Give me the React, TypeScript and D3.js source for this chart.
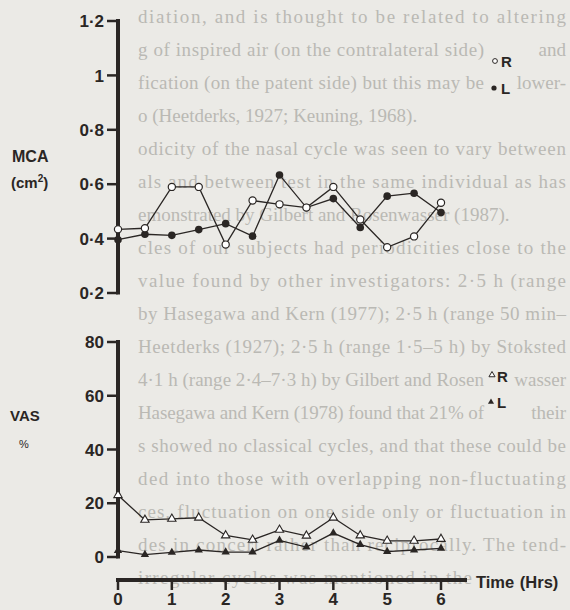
import React from 'react';
import * as d3 from 'd3';

const hours = [0, 0.5, 1, 1.5, 2, 2.5, 3, 3.5, 4, 4.5, 5, 5.5, 6];
const mcaR = [0.434, 0.438, 0.59, 0.59, 0.378, 0.54, 0.526, 0.514, 0.59, 0.47, 0.368, 0.408, 0.532];
const mcaL = [0.396, 0.416, 0.412, 0.433, 0.455, 0.409, 0.634, 0.514, 0.547, 0.441, 0.556, 0.567, 0.496];
const vasR = [23, 13.8, 14.2, 14.6, 8, 6.4, 10.1, 7.9, 14.6, 8, 6, 6, 6.7];
const vasL = [2.4, 0.9, 1.7, 2.6, 1.8, 1.8, 6.2, 3.7, 8.9, 4.6, 2, 2.6, 3.2];

const mcaTicks = [0.2, 0.4, 0.6, 0.8, 1, 1.2];
const mcaTickLabels = ['0·2', '0·4', '0·6', '0·8', '1', '1·2'];
const vasTicks = [0, 20, 40, 60, 80];
const timeTicks = [0, 1, 2, 3, 4, 5, 6];

// faint page text behind the figure; rows split where a legend label sits on top
type PageLine = { t: string; j: boolean; end?: number; r?: string };
const pageLines: PageLine[] = [
  { t: 'diation, and is thought to be related to altering', j: true },
  { t: 'g of inspired air (on the contralateral side)', j: true, end: 484, r: 'and' },
  { t: 'fication (on the patent side) but this may be', j: true, end: 484, r: 'lower-' },
  { t: 'o (Heetderks, 1927; Keuning, 1968).', j: false },
  { t: 'odicity of the nasal cycle was seen to vary between', j: true },
  { t: 'als and between test in the same individual as has', j: true },
  { t: 'emonstrated by Gilbert and Rosenwasser (1987).', j: false },
  { t: 'cles of our subjects had periodicities close to the', j: true },
  { t: 'value found by other investigators: 2·5 h (range', j: true },
  { t: 'by Hasegawa and Kern (1977); 2·5 h (range 50 min–', j: true },
  { t: 'Heetderks (1927); 2·5 h (range 1·5–5 h) by Stoksted', j: true },
  { t: '4·1 h (range 2·4–7·3 h) by Gilbert and Rosen', j: true, end: 484, r: 'wasser' },
  { t: 'Hasegawa and Kern (1978) found that 21% of', j: true, end: 484, r: 'their' },
  { t: 's showed no classical cycles, and that these could be', j: true },
  { t: 'ded into those with overlapping non-fluctuating', j: true },
  { t: 'ces, fluctuation on one side only or fluctuation in', j: true },
  { t: 'des in concert rather than reciprocally. The tend-', j: true },
  { t: 'irregular cycles was mentioned in the', j: true, end: 472 },
];

const INK = '#2a2624';
const SANS = '"Liberation Sans", Arial, Helvetica, sans-serif';
const PAGE_X = 138;
const PAGE_END = 566;

export default function App() {
  const W = 570;
  const H = 610;
  const x = d3.scaleLinear().domain([0, 6]).range([118, 441]);
  const yM = d3.scaleLinear().domain([0.2, 1.2]).range([293, 21]);
  const yV = d3.scaleLinear().domain([0, 80]).range([557, 342]);
  const rowY = d3.scaleLinear().domain([0, 1]).range([23, 56]);

  const lineM = (vals: number[]) =>
    d3.line<number>().x((_, i) => x(hours[i])).y((v) => yM(v))(vals) || '';
  const lineV = (vals: number[]) =>
    d3.line<number>().x((_, i) => x(hours[i])).y((v) => yV(v))(vals) || '';
  const tri = d3.symbol().type(d3.symbolTriangle).size(30)() || '';
  const triSmall = d3.symbol().type(d3.symbolTriangle).size(16)() || '';

  const axisX = 118;

  return (
    <svg
      width={W}
      height={H}
      viewBox={`0 0 ${W} ${H}`}
      style={{ position: 'absolute', left: 0, top: 0, display: 'block' }}
    >
      <rect x={0} y={0} width={W} height={H} fill="#ebeae6" />
      <g fontFamily='"Liberation Serif", "DejaVu Serif", serif' fontSize={19} fill="#bab9b4">
        {pageLines.map((l, i) => (
          <g key={i}>
            <text
              x={PAGE_X}
              y={rowY(i)}
              {...(l.j ? { textLength: (l.end ?? PAGE_END) - PAGE_X, lengthAdjust: 'spacing' } : {})}
            >
              {l.t}
            </text>
            {l.r ? (
              <text x={PAGE_END} y={rowY(i)} textAnchor="end">
                {l.r}
              </text>
            ) : null}
          </g>
        ))}
      </g>

      {/* MCA axis */}
      <line x1={axisX} x2={axisX} y1={yM(1.2) - 2} y2={yM(0.2) + 1.5} stroke={INK} strokeWidth={4} />
      {mcaTicks.map((t, i) => (
        <g key={t}>
          <line x1={axisX - 11} x2={axisX} y1={yM(t)} y2={yM(t)} stroke={INK} strokeWidth={2.5} />
          <text x={axisX - 14} y={yM(t)} dy="0.36em" textAnchor="end" fontFamily={SANS} fontWeight="bold" fontSize={17} fill={INK}>
            {mcaTickLabels[i]}
          </text>
        </g>
      ))}
      <text x={12} y={162} fontFamily={SANS} fontWeight="bold" fontSize={16} fill={INK}>MCA</text>
      <text x={11} y={188} fontFamily={SANS} fontWeight="bold" fontSize={15} fill={INK}>
        (cm<tspan fontSize={10} dy={-6}>2</tspan><tspan dy={6}>)</tspan>
      </text>

      {/* MCA lines */}
      <path d={lineM(mcaR)} fill="none" stroke={INK} strokeWidth={1.3} />
      <path d={lineM(mcaL)} fill="none" stroke={INK} strokeWidth={1.3} />
      {mcaL.map((v, i) => (
        <circle key={'l' + i} cx={x(hours[i])} cy={yM(v)} r={3.8} fill={INK} />
      ))}
      {mcaR.map((v, i) => (
        <circle key={'r' + i} cx={x(hours[i])} cy={yM(v)} r={3.6} fill="#ffffff" stroke={INK} strokeWidth={1.2} />
      ))}

      {/* MCA legend */}
      <circle cx={495} cy={61} r={2.4} fill="#fff" stroke={INK} strokeWidth={1} />
      <text x={501} y={67} fontFamily={SANS} fontWeight="bold" fontSize={15} fill={INK}>R</text>
      <circle cx={494} cy={88} r={2.6} fill={INK} />
      <text x={501} y={94} fontFamily={SANS} fontWeight="bold" fontSize={15} fill={INK}>L</text>

      {/* VAS axis */}
      <line x1={axisX} x2={axisX} y1={yV(80) - 2} y2={yV(0) + 1.5} stroke={INK} strokeWidth={4} />
      {vasTicks.map((t) => (
        <g key={t}>
          <line x1={axisX - 11} x2={axisX} y1={yV(t)} y2={yV(t)} stroke={INK} strokeWidth={2.5} />
          <text x={axisX - 14} y={yV(t)} dy="0.36em" textAnchor="end" fontFamily={SANS} fontWeight="bold" fontSize={17} fill={INK}>
            {t}
          </text>
        </g>
      ))}
      <text x={10} y={421} fontFamily={SANS} fontWeight="bold" fontSize={15} fill={INK}>VAS</text>
      <text x={19} y={448} fontFamily={SANS} fontSize={11} fill={INK}>%</text>

      {/* VAS lines */}
      <path d={lineV(vasR)} fill="none" stroke={INK} strokeWidth={1.3} />
      <path d={lineV(vasL)} fill="none" stroke={INK} strokeWidth={1.3} />
      {vasL.map((v, i) => (
        <path key={'vl' + i} d={tri} transform={`translate(${x(hours[i])},${yV(v)})`} fill={INK} />
      ))}
      {vasR.map((v, i) => (
        <path key={'vr' + i} d={tri} transform={`translate(${x(hours[i])},${yV(v)})`} fill="#fff" stroke={INK} strokeWidth={1.1} />
      ))}

      {/* VAS legend */}
      <path d={triSmall} transform="translate(492,375)" fill="#fff" stroke={INK} strokeWidth={1} />
      <text x={497} y={382} fontFamily={SANS} fontWeight="bold" fontSize={15} fill={INK}>R</text>
      <path d={triSmall} transform="translate(491,402)" fill={INK} />
      <text x={497} y={408} fontFamily={SANS} fontWeight="bold" fontSize={15} fill={INK}>L</text>

      {/* Time axis */}
      <line x1={x(0) - 2} x2={467} y1={580} y2={580} stroke={INK} strokeWidth={4} />
      {timeTicks.map((t) => (
        <g key={t}>
          <line x1={x(t)} x2={x(t)} y1={580} y2={590} stroke={INK} strokeWidth={2.5} />
          <text x={x(t)} y={605} textAnchor="middle" fontFamily={SANS} fontWeight="bold" fontSize={17} fill={INK}>
            {t}
          </text>
        </g>
      ))}
      <text x={476} y={588} fontFamily={SANS} fontWeight="bold" fontSize={16.5} fill={INK} wordSpacing={1}>
        Time (Hrs)
      </text>
    </svg>
  );
}
